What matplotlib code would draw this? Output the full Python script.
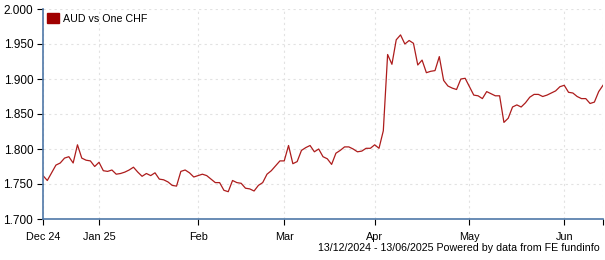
import matplotlib
matplotlib.use('Agg')
from matplotlib import pyplot as plt
import pandas as pd

# daily AUD per CHF, one value per weekday 13/12/2024 - 13/06/2025
dates = pd.bdate_range('2024-12-13', '2025-06-13')
values = [
    1.762, 1.755, 1.766, 1.777, 1.780, 1.787, 1.789, 1.780, 1.806, 1.787,
    1.784, 1.783, 1.775, 1.781, 1.769, 1.768, 1.770, 1.764, 1.765, 1.767,
    1.770, 1.774, 1.767, 1.761, 1.765, 1.762, 1.766, 1.757, 1.756, 1.753,
    1.748, 1.747, 1.768, 1.770, 1.766, 1.760, 1.762, 1.764, 1.762, 1.757,
    1.752, 1.752, 1.741, 1.739, 1.755, 1.752, 1.751, 1.744, 1.743, 1.740,
    1.748, 1.752, 1.764, 1.769, 1.776, 1.783, 1.783, 1.805, 1.779, 1.782,
    1.798, 1.802, 1.805, 1.796, 1.800, 1.789, 1.786, 1.778, 1.794, 1.798,
    1.803, 1.803, 1.800, 1.796, 1.797, 1.801, 1.801, 1.806, 1.801, 1.826,
    1.935, 1.921, 1.956, 1.963, 1.950, 1.955, 1.951, 1.920, 1.927, 1.909,
    1.911, 1.912, 1.932, 1.898, 1.890, 1.887, 1.885, 1.900, 1.901, 1.889,
    1.877, 1.876, 1.872, 1.882, 1.879, 1.876, 1.876, 1.838, 1.844, 1.860,
    1.863, 1.860, 1.866, 1.874, 1.878, 1.878, 1.875, 1.877, 1.880, 1.883,
    1.889, 1.891, 1.881, 1.880, 1.875, 1.872, 1.872, 1.865, 1.867, 1.882,
    1.891,
]
y_ticks = [1.700, 1.750, 1.800, 1.850, 1.900, 1.950, 2.000]
series_name = 'AUD vs One CHF'
footer = '13/12/2024 - 13/06/2025 Powered by data from FE fundinfo'

n = min(len(dates), len(values))
idx = list(range(n))

# month ticks at first trading day of each month
tick_pos = [0]
tick_lab = ['Dec 24']
for i in range(1, n):
    if dates[i].month != dates[i - 1].month:
        tick_pos.append(i)
        d = dates[i]
        tick_lab.append('Jan 25' if d.month == 1 else d.strftime('%b'))

plt.rcParams['font.family'] = ['Liberation Sans', 'DejaVu Sans']
plt.rcParams['font.size'] = 8

fig = plt.figure(figsize=(6.05, 2.6), dpi=100)
ax = fig.add_axes([43 / 605, 41 / 260, 560 / 605, 210 / 260])

line_col = '#ad1c1c'
spine_col = '#4f78a8'

ax.plot(idx, values[:n], color=line_col, lw=0.9)

ax.set_xlim(0, n - 1)
ax.set_ylim(1.7, 2.0)
ax.set_yticks(y_ticks)
ax.set_yticklabels(['%.3f' % v for v in y_ticks], fontsize=8.5)
ax.set_xticks(tick_pos + [n - 1])
ax.set_xticklabels(tick_lab + [''], fontsize=7.8)

ax.grid(True, color='#e2e2e2', linestyle=(0, (2, 3)), lw=0.8)
for s in ['top', 'right']:
    ax.spines[s].set_visible(False)
for s in ['left', 'bottom']:
    ax.spines[s].set_color(spine_col)
    ax.spines[s].set_linewidth(1.2)
ax.tick_params(axis='both', length=4, width=0.8, colors='black', pad=3)
ax.tick_params(axis='x', pad=5)

# legend
ax.legend([plt.Rectangle((0, 0), 1, 1, color='#a00000')], [series_name],
          loc='upper left', frameon=False, handlelength=1.1, handleheight=1.1,
          handletextpad=0.45, borderaxespad=0.0, borderpad=0.35, fontsize=7.7)

fig.text(600 / 605, 1 - 248 / 260, footer, ha='right', va='center', fontsize=7.7)

plt.savefig('out.png', dpi=100)
